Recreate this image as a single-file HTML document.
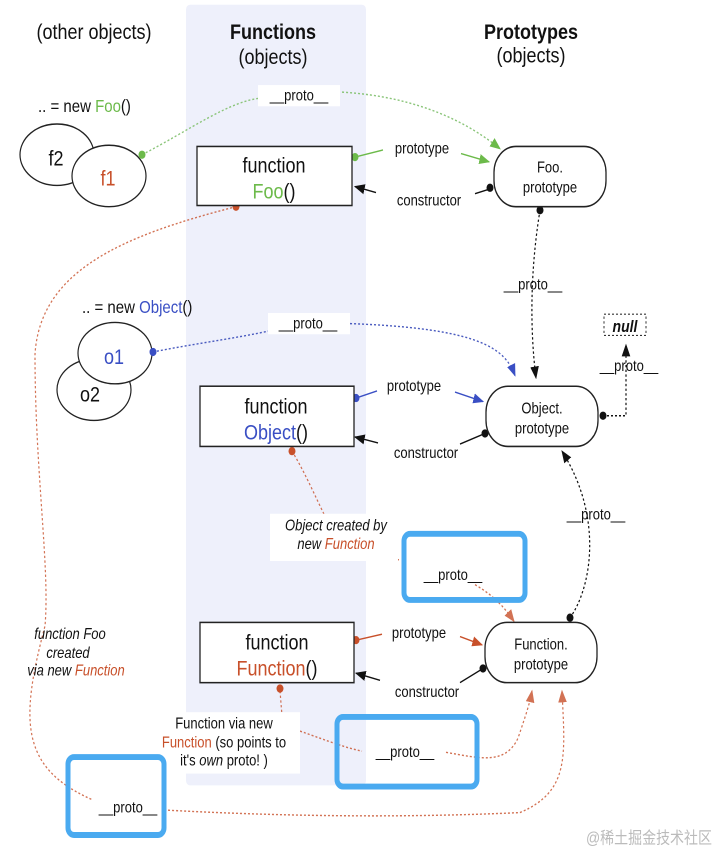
<!DOCTYPE html>
<html><head><meta charset="utf-8"><style>
html,body{margin:0;padding:0;background:#fff}
svg{display:block}
text{font-family:"Liberation Sans",sans-serif;fill:#111}
.s{font-size:13px}
.m{font-size:18px}
.i{font-style:italic;font-size:13px}
</style></head><body>
<svg width="716" height="848" viewBox="0 0 716 718" preserveAspectRatio="none" xmlns="http://www.w3.org/2000/svg">
<defs>
<marker id="ab" viewBox="0 0 10 10" refX="9" refY="5" markerWidth="9" markerHeight="9" orient="auto"><path d="M0,1 L10,5 L0,9 z" fill="#111"/></marker>
<marker id="ag" viewBox="0 0 10 10" refX="9" refY="5" markerWidth="9" markerHeight="9" orient="auto"><path d="M0,1 L10,5 L0,9 z" fill="#6cba4a"/></marker>
<marker id="au" viewBox="0 0 10 10" refX="9" refY="5" markerWidth="9" markerHeight="9" orient="auto"><path d="M0,1 L10,5 L0,9 z" fill="#3a4fc4"/></marker>
<marker id="ar" viewBox="0 0 10 10" refX="9" refY="5" markerWidth="9" markerHeight="9" orient="auto"><path d="M0,1 L10,5 L0,9 z" fill="#c8502a"/></marker>
</defs>
<rect x="186" y="4" width="180" height="661" rx="4" fill="#eef0fb"/>
<text x="94" y="33" class="m" text-anchor="middle">(other objects)</text>
<text x="273" y="33" class="m" text-anchor="middle" font-weight="bold">Functions</text>
<text x="273" y="54" class="m" text-anchor="middle">(objects)</text>
<text x="531" y="33" class="m" text-anchor="middle" font-weight="bold">Prototypes</text>
<text x="531" y="53" class="m" text-anchor="middle">(objects)</text>

<!-- curves -->
<g fill="none" stroke-dasharray="2,2" stroke-width="1.2">
<path d="M142,131 C190,110 230,85 262,83" stroke="#8bc57a"/>
<path d="M342,78 C420,82 470,105 500,126" stroke="#8bc57a" marker-end="url(#ag)"/>
<path d="M153,298 C200,290 250,285 290,276" stroke="#4a5bbf"/>
<path d="M350,274 C480,278 505,295 515,318" stroke="#4a5bbf" marker-end="url(#au)"/>
<path d="M540,178 C530,230 530,280 536,320" stroke="#111" marker-end="url(#ab)"/>
<path d="M603,352 L626,352 L626,292" stroke="#111" marker-end="url(#ab)"/>
<path d="M570,523 C590,500 605,440 562,382" stroke="#111" marker-end="url(#ab)"/>
<path d="M236,175 C120,200 40,230 35,300 C35,400 50,480 45,530 C20,610 20,650 92,677" stroke="#c8502a" opacity=".8"/>
<path d="M168,686 C300,692 420,692 520,688 C570,670 565,640 562,585" stroke="#c8502a" opacity=".8" marker-end="url(#ar)"/>
<path d="M292,382 C305,400 315,420 325,437" stroke="#c8502a" opacity=".8"/>
<path d="M370,470 L399,474" stroke="#c8502a" opacity=".8"/>
<path d="M475,495 C495,505 505,515 514,526" stroke="#c8502a" opacity=".8" marker-end="url(#ar)"/>
<path d="M280,585 L282,606" stroke="#c8502a" opacity=".8"/>
<path d="M300,619 C330,628 345,633 362,636" stroke="#c8502a" opacity=".8"/>
<path d="M446,637 C480,642 505,648 518,625 C526,605 530,595 532,585" stroke="#c8502a" opacity=".8" marker-end="url(#ar)"/>
</g>

<!-- solid connectors -->
<g fill="none" stroke-width="1.2">
<path d="M355,133 L383,127" stroke="#6cba4a"/>
<path d="M461,130 L489,137" stroke="#6cba4a" marker-end="url(#ag)"/>
<path d="M490,160 L475,164" stroke="#111"/>
<path d="M376,163 L355,158" stroke="#111" marker-end="url(#ab)"/>
<path d="M356,337 L377,331" stroke="#3a4fc4"/>
<path d="M455,332 L483,340" stroke="#3a4fc4" marker-end="url(#au)"/>
<path d="M485,367 L460,376" stroke="#111"/>
<path d="M378,375 L355,370" stroke="#111" marker-end="url(#ab)"/>
<path d="M356,542 L382,537" stroke="#c8502a"/>
<path d="M460,539 L482,546" stroke="#c8502a" marker-end="url(#ar)"/>
<path d="M483,566 L460,578" stroke="#111"/>
<path d="M380,576 L356,570" stroke="#111" marker-end="url(#ab)"/>
</g>

<!-- circles -->
<g stroke="#222" stroke-width="1.2" fill="#fff">
<ellipse cx="57" cy="131" rx="37" ry="26"/>
<ellipse cx="109" cy="149" rx="37" ry="26"/>
<ellipse cx="94" cy="330" rx="37" ry="26"/>
<ellipse cx="115" cy="299" rx="37" ry="26"/>
</g>
<text x="56" y="140" class="m" text-anchor="middle">f2</text>
<text x="108" y="157" class="m" text-anchor="middle" style="fill:#c8502a">f1</text>
<text x="114" y="308" class="m" text-anchor="middle" style="fill:#3a4fc4">o1</text>
<text x="90" y="340" class="m" text-anchor="middle">o2</text>
<text x="38" y="95" font-size="15">.. = new <tspan style="fill:#6cba4a">Foo</tspan>()</text>
<text x="82" y="265" font-size="15">.. = new <tspan style="fill:#3a4fc4">Object</tspan>()</text>
<g>
<circle cx="142" cy="131" r="3.5" fill="#6cba4a"/>
<circle cx="355" cy="133" r="3.5" fill="#6cba4a"/>
<circle cx="490" cy="159" r="3.5" fill="#111"/>
<circle cx="540" cy="178" r="3.5" fill="#111"/>
<circle cx="236" cy="175" r="3.5" fill="#c8502a"/>
<circle cx="153" cy="298" r="3.5" fill="#3a4fc4"/>
<circle cx="356" cy="337" r="3.5" fill="#3a4fc4"/>
<circle cx="485" cy="367" r="3.5" fill="#111"/>
<circle cx="603" cy="352" r="3.5" fill="#111"/>
<circle cx="292" cy="382" r="3.5" fill="#c8502a"/>
<circle cx="356" cy="542" r="3.5" fill="#c8502a"/>
<circle cx="483" cy="566" r="3.5" fill="#111"/>
<circle cx="570" cy="523" r="3.5" fill="#111"/>
<circle cx="280" cy="583" r="3.5" fill="#c8502a"/>
</g>

<!-- boxes -->
<g stroke="#222" stroke-width="1.3" fill="#fff">
<rect x="197" y="124" width="155" height="50"/>
<rect x="200" y="327" width="154" height="51"/>
<rect x="200" y="527" width="154" height="51"/>
<rect x="494" y="124" width="112" height="51" rx="22"/>
<rect x="486" y="327" width="112" height="51" rx="22"/>
<rect x="485" y="527" width="112" height="51" rx="22"/>
</g>
<text x="274" y="146" class="m" text-anchor="middle">function</text>
<text x="274" y="168" class="m" text-anchor="middle"><tspan style="fill:#6cba4a">Foo</tspan>()</text>
<text x="276" y="350" class="m" text-anchor="middle">function</text>
<text x="276" y="372" class="m" text-anchor="middle"><tspan style="fill:#3a4fc4">Object</tspan>()</text>
<text x="277" y="550" class="m" text-anchor="middle">function</text>
<text x="277" y="572" class="m" text-anchor="middle"><tspan style="fill:#c8502a">Function</tspan>()</text>
<text x="550" y="146" class="s" text-anchor="middle">Foo.</text>
<text x="550" y="163" class="s" text-anchor="middle">prototype</text>
<text x="542" y="350" class="s" text-anchor="middle">Object.</text>
<text x="542" y="367" class="s" text-anchor="middle">prototype</text>
<text x="541" y="550" class="s" text-anchor="middle">Function.</text>
<text x="541" y="567" class="s" text-anchor="middle">prototype</text>

<!-- labels -->
<g>
<rect x="258" y="72" width="82" height="18" fill="#fff"/>
<text x="299" y="85" class="s" text-anchor="middle">__proto__</text>
<text x="422" y="130" class="s" text-anchor="middle">prototype</text>
<text x="429" y="174" class="s" text-anchor="middle">constructor</text>
<text x="533" y="245" class="s" text-anchor="middle">__proto__</text>
<rect x="268" y="265" width="82" height="18" fill="#fff"/>
<text x="308" y="278" class="s" text-anchor="middle">__proto__</text>
<rect x="604" y="266" width="42" height="18" fill="#fff" stroke="#333" stroke-dasharray="2,2"/>
<text x="625" y="281" font-size="14" font-weight="bold" font-style="italic" text-anchor="middle">null</text>
<text x="629" y="314" class="s" text-anchor="middle">__proto__</text>
<text x="414" y="331" class="s" text-anchor="middle">prototype</text>
<text x="426" y="388" class="s" text-anchor="middle">constructor</text>
<text x="596" y="440" class="s" text-anchor="middle">__proto__</text>
<rect x="270" y="435" width="128" height="40" fill="#fff"/>
<text x="336" y="449" class="i" text-anchor="middle">Object created by</text>
<text x="336" y="465" class="i" text-anchor="middle">new <tspan style="fill:#c8502a">Function</tspan></text>
<text x="419" y="540" class="s" text-anchor="middle">prototype</text>
<text x="427" y="590" class="s" text-anchor="middle">constructor</text>
<text x="70" y="541" class="i" text-anchor="middle">function Foo</text>
<text x="68" y="557" class="i" text-anchor="middle">created</text>
<text x="76" y="572" class="i" text-anchor="middle">via new <tspan style="fill:#c8502a">Function</tspan></text>
<rect x="160" y="603" width="140" height="52" fill="#fff"/>
<text x="224" y="617" class="s" text-anchor="middle">Function via new</text>
<text x="224" y="633" class="s" text-anchor="middle"><tspan style="fill:#c8502a">Function</tspan> (so points to</text>
<text x="224" y="648" class="s" text-anchor="middle">it's <tspan font-style="italic">own</tspan> proto! )</text>
</g>

<!-- blue highlight boxes -->
<g fill="none" stroke="#4aaaf0" stroke-width="5">
<rect x="404" y="452" width="121" height="56" rx="6"/>
<rect x="337" y="607" width="140" height="59" rx="6"/>
<rect x="68" y="641" width="96" height="66" rx="6"/>
</g>
<text x="453" y="491" class="s" text-anchor="middle">__proto__</text>
<text x="405" y="641" class="s" text-anchor="middle">__proto__</text>
<text x="128" y="688" class="s" text-anchor="middle">__proto__</text>
<text x="712" y="714" font-size="14" text-anchor="end" style="fill:#bbb;font-family:'Liberation Sans','Noto Sans CJK SC',sans-serif">@稀土掘金技术社区</text>
</svg>
</body></html>
